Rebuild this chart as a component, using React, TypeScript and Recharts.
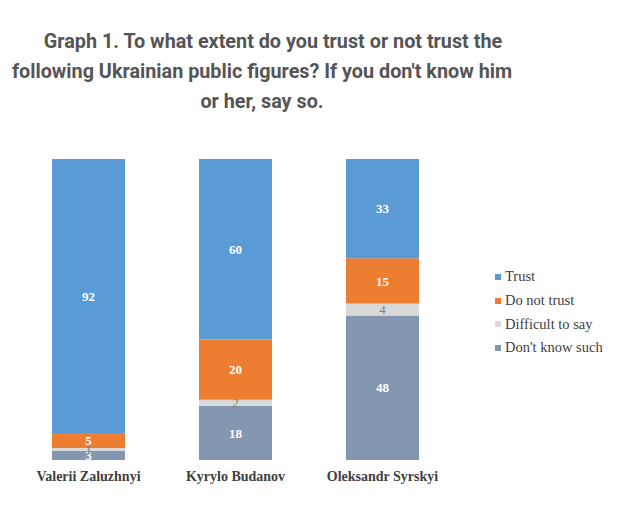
import { BarChart, Bar, XAxis, YAxis, LabelList } from 'recharts'

const people = ['Valerii Zaluzhnyi', 'Kyrylo Budanov', 'Oleksandr Syrskyi']
const trust = [92, 60, 33]
const distrust = [5, 20, 15]
const difficult = [1, 2, 4]
const dontKnow = [3, 18, 48]

const data = people.map((name, i) => ({
  name,
  trust: trust[i],
  distrust: distrust[i],
  difficult: difficult[i],
  dontKnow: dontKnow[i],
}))

const legendItems = [
  { label: 'Trust', color: '#5B9BD5' },
  { label: 'Do not trust', color: '#ED7D31' },
  { label: 'Difficult to say', color: '#D9D9D9' },
  { label: "Don't know such", color: '#8497B0' },
]

const serif = '"Liberation Serif", "Times New Roman", serif'

const whiteLabel = { fill: '#fff', fontFamily: serif, fontSize: 13, fontWeight: 'bold' as const }

export default function App() {
  return (
    <div style={{ position: 'absolute', left: 0, top: 0, width: 640, height: 507, background: '#fff' }}>
      <div
        style={{
          position: 'absolute',
          left: 0,
          top: 27,
          width: 524,
          textAlign: 'center',
          fontFamily: 'Roboto, sans-serif',
          fontWeight: 'bold',
          fontSize: 19.8,
          lineHeight: '30px',
          color: '#555',
          whiteSpace: 'nowrap',
        }}
      >
        <div style={{ paddingLeft: 22 }}>Graph 1. To what extent do you trust or not trust the</div>
        <div>following Ukrainian public figures? If you don't know him</div>
        <div>or her, say so.</div>
      </div>

      <BarChart
        width={640}
        height={507}
        data={data}
        margin={{ top: 159, right: 184, bottom: 17, left: 15 }}
        barSize={73}
      >
        <XAxis
          dataKey="name"
          axisLine={false}
          tickLine={false}
          height={30}
          dy={3}
          tick={{ fill: '#404040', fontFamily: serif, fontSize: 14, fontWeight: 'bold' }}
        />
        <YAxis hide domain={[0, 100]} allowDataOverflow />
        <Bar dataKey="dontKnow" stackId="a" fill="#8497B0" isAnimationActive={false}>
          <LabelList dataKey="dontKnow" position="center" {...whiteLabel} />
        </Bar>
        <Bar dataKey="difficult" stackId="a" fill="#D9D9D9" isAnimationActive={false}>
          <LabelList
            dataKey="difficult"
            position="center"
            fill="#7F7F7F"
            fontFamily={serif}
            fontSize={13}
          />
        </Bar>
        <Bar dataKey="distrust" stackId="a" fill="#ED7D31" isAnimationActive={false}>
          <LabelList dataKey="distrust" position="center" {...whiteLabel} />
        </Bar>
        <Bar dataKey="trust" stackId="a" fill="#5B9BD5" isAnimationActive={false}>
          <LabelList dataKey="trust" position="center" {...whiteLabel} />
        </Bar>
      </BarChart>

      <div
        style={{
          position: 'absolute',
          left: 495,
          top: 265,
          fontFamily: serif,
          fontSize: 14.5,
          color: '#404040',
          whiteSpace: 'nowrap',
        }}
      >
        {legendItems.map((it) => (
          <div key={it.label} style={{ display: 'flex', alignItems: 'center', height: 23.7 }}>
            <span style={{ width: 6, height: 6, background: it.color, marginRight: 4 }} />
            {it.label}
          </div>
        ))}
      </div>
    </div>
  )
}
